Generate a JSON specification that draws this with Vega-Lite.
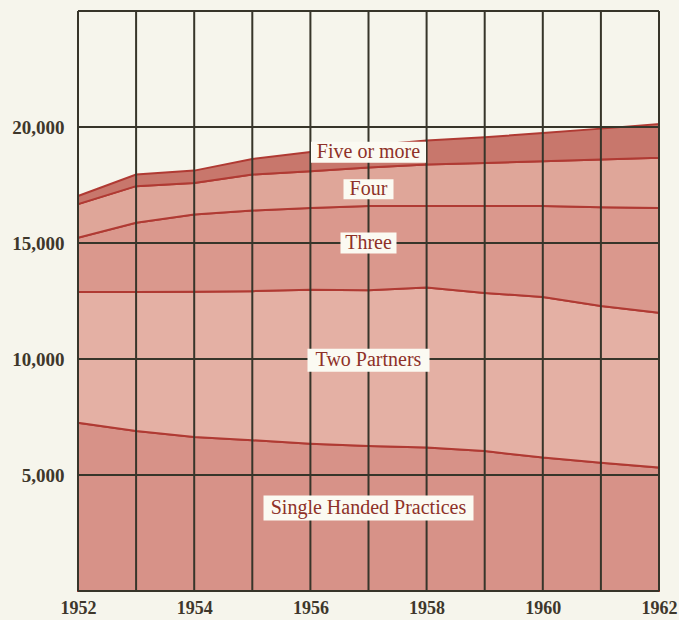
{
  "$schema": "https://vega.github.io/schema/vega-lite/v6.json",
  "width": 581,
  "height": 580,
  "autosize": {"type": "none"},
  "padding": {"left": 78, "top": 11, "right": 20, "bottom": 29},
  "background": "#f6f5ec",
  "config": {"view": {"stroke": null}},
  "datasets": {
    "practices": [
      {"year": 1952, "type": "Single Handed Practices", "rank": 1, "count": 7250},
      {"year": 1953, "type": "Single Handed Practices", "rank": 1, "count": 6900},
      {"year": 1954, "type": "Single Handed Practices", "rank": 1, "count": 6640},
      {"year": 1955, "type": "Single Handed Practices", "rank": 1, "count": 6500},
      {"year": 1956, "type": "Single Handed Practices", "rank": 1, "count": 6350},
      {"year": 1957, "type": "Single Handed Practices", "rank": 1, "count": 6250},
      {"year": 1958, "type": "Single Handed Practices", "rank": 1, "count": 6180},
      {"year": 1959, "type": "Single Handed Practices", "rank": 1, "count": 6030},
      {"year": 1960, "type": "Single Handed Practices", "rank": 1, "count": 5750},
      {"year": 1961, "type": "Single Handed Practices", "rank": 1, "count": 5530},
      {"year": 1962, "type": "Single Handed Practices", "rank": 1, "count": 5320},
      {"year": 1952, "type": "Two Partners", "rank": 2, "count": 5650},
      {"year": 1953, "type": "Two Partners", "rank": 2, "count": 5990},
      {"year": 1954, "type": "Two Partners", "rank": 2, "count": 6255},
      {"year": 1955, "type": "Two Partners", "rank": 2, "count": 6425},
      {"year": 1956, "type": "Two Partners", "rank": 2, "count": 6630},
      {"year": 1957, "type": "Two Partners", "rank": 2, "count": 6710},
      {"year": 1958, "type": "Two Partners", "rank": 2, "count": 6900},
      {"year": 1959, "type": "Two Partners", "rank": 2, "count": 6820},
      {"year": 1960, "type": "Two Partners", "rank": 2, "count": 6920},
      {"year": 1961, "type": "Two Partners", "rank": 2, "count": 6750},
      {"year": 1962, "type": "Two Partners", "rank": 2, "count": 6670},
      {"year": 1952, "type": "Three", "rank": 3, "count": 2325},
      {"year": 1953, "type": "Three", "rank": 3, "count": 2980},
      {"year": 1954, "type": "Three", "rank": 3, "count": 3335},
      {"year": 1955, "type": "Three", "rank": 3, "count": 3475},
      {"year": 1956, "type": "Three", "rank": 3, "count": 3530},
      {"year": 1957, "type": "Three", "rank": 3, "count": 3630},
      {"year": 1958, "type": "Three", "rank": 3, "count": 3510},
      {"year": 1959, "type": "Three", "rank": 3, "count": 3740},
      {"year": 1960, "type": "Three", "rank": 3, "count": 3920},
      {"year": 1961, "type": "Three", "rank": 3, "count": 4260},
      {"year": 1962, "type": "Three", "rank": 3, "count": 4520},
      {"year": 1952, "type": "Four", "rank": 4, "count": 1450},
      {"year": 1953, "type": "Four", "rank": 4, "count": 1580},
      {"year": 1954, "type": "Four", "rank": 4, "count": 1360},
      {"year": 1955, "type": "Four", "rank": 4, "count": 1550},
      {"year": 1956, "type": "Four", "rank": 4, "count": 1580},
      {"year": 1957, "type": "Four", "rank": 4, "count": 1660},
      {"year": 1958, "type": "Four", "rank": 4, "count": 1790},
      {"year": 1959, "type": "Four", "rank": 4, "count": 1860},
      {"year": 1960, "type": "Four", "rank": 4, "count": 1930},
      {"year": 1961, "type": "Four", "rank": 4, "count": 2060},
      {"year": 1962, "type": "Four", "rank": 4, "count": 2160},
      {"year": 1952, "type": "Five or more", "rank": 5, "count": 350},
      {"year": 1953, "type": "Five or more", "rank": 5, "count": 500},
      {"year": 1954, "type": "Five or more", "rank": 5, "count": 530},
      {"year": 1955, "type": "Five or more", "rank": 5, "count": 670},
      {"year": 1956, "type": "Five or more", "rank": 5, "count": 835},
      {"year": 1957, "type": "Five or more", "rank": 5, "count": 950},
      {"year": 1958, "type": "Five or more", "rank": 5, "count": 1040},
      {"year": 1959, "type": "Five or more", "rank": 5, "count": 1110},
      {"year": 1960, "type": "Five or more", "rank": 5, "count": 1220},
      {"year": 1961, "type": "Five or more", "rank": 5, "count": 1330},
      {"year": 1962, "type": "Five or more", "rank": 5, "count": 1460}
    ],
    "gridYears": [
      {"year": 1952}, {"year": 1953}, {"year": 1954}, {"year": 1955}, {"year": 1956}, {"year": 1957},
      {"year": 1958}, {"year": 1959}, {"year": 1960}, {"year": 1961}, {"year": 1962}
    ],
    "gridValues": [
      {"value": 0}, {"value": 5000}, {"value": 10000}, {"value": 15000}, {"value": 20000}, {"value": 25000}
    ],
    "labels": [
      {"label": "Five or more", "year": 1957, "value": 18910},
      {"label": "Four", "year": 1957, "value": 17320},
      {"label": "Three", "year": 1957, "value": 15000},
      {"label": "Two Partners", "year": 1957, "value": 9950},
      {"label": "Single Handed Practices", "year": 1957, "value": 3580}
    ]
  },
  "layer": [
    {
      "data": {"name": "practices"},
      "mark": {"type": "area", "stroke": "#b03a33", "strokeWidth": 2, "opacity": 1},
      "encoding": {
        "x": {
          "field": "year", "type": "quantitative",
          "scale": {"domain": [1952, 1962], "nice": false, "zero": false},
          "axis": {
            "values": [1952, 1954, 1956, 1958, 1960, 1962], "format": "d", "title": null,
            "grid": false, "domain": false, "ticks": false, "tickSize": 0, "labelPadding": 8,
            "labelFont": "Liberation Serif", "labelFontSize": 18, "labelFontWeight": "bold", "labelColor": "#3e372b",
            "labelFlush": false
          }
        },
        "y": {
          "field": "count", "type": "quantitative", "stack": "zero",
          "scale": {"domain": [0, 25000], "nice": false},
          "axis": {
            "values": [5000, 10000, 15000, 20000], "format": ",d", "title": null,
            "grid": false, "domain": false, "ticks": false, "tickSize": 0, "labelPadding": 14,
            "labelFont": "Liberation Serif", "labelFontSize": 19, "labelFontWeight": "bold", "labelColor": "#3e372b"
          }
        },
        "order": {"field": "rank", "type": "quantitative"},
        "color": {
          "field": "type", "type": "nominal", "legend": null,
          "scale": {
            "domain": ["Single Handed Practices", "Two Partners", "Three", "Four", "Five or more"],
            "range": ["#d79288", "#e4b0a4", "#da988d", "#dfa699", "#c8776c"]
          }
        }
      }
    },
    {
      "data": {"name": "gridYears"},
      "mark": {"type": "rule", "stroke": "#37352a", "strokeWidth": 2},
      "encoding": {"x": {"field": "year", "type": "quantitative"}}
    },
    {
      "data": {"name": "gridValues"},
      "mark": {"type": "rule", "stroke": "#37352a", "strokeWidth": 2},
      "encoding": {"y": {"field": "value", "type": "quantitative"}}
    },
    {
      "data": {"name": "labels"},
      "transform": [{"filter": "datum.label === 'Five or more'"}],
      "mark": {"type": "rect", "width": 115, "height": 21, "fill": "#fbfaf2"},
      "encoding": {"x": {"field": "year", "type": "quantitative"}, "y": {"field": "value", "type": "quantitative"}}
    },
    {
      "data": {"name": "labels"},
      "transform": [{"filter": "datum.label === 'Four'"}],
      "mark": {"type": "rect", "width": 50, "height": 20, "fill": "#fbfaf2"},
      "encoding": {"x": {"field": "year", "type": "quantitative"}, "y": {"field": "value", "type": "quantitative"}}
    },
    {
      "data": {"name": "labels"},
      "transform": [{"filter": "datum.label === 'Three'"}],
      "mark": {"type": "rect", "width": 56, "height": 21, "fill": "#fbfaf2"},
      "encoding": {"x": {"field": "year", "type": "quantitative"}, "y": {"field": "value", "type": "quantitative"}}
    },
    {
      "data": {"name": "labels"},
      "transform": [{"filter": "datum.label === 'Two Partners'"}],
      "mark": {"type": "rect", "width": 122, "height": 23, "fill": "#fbfaf2"},
      "encoding": {"x": {"field": "year", "type": "quantitative"}, "y": {"field": "value", "type": "quantitative"}}
    },
    {
      "data": {"name": "labels"},
      "transform": [{"filter": "datum.label === 'Single Handed Practices'"}],
      "mark": {"type": "rect", "width": 210, "height": 25, "fill": "#fbfaf2"},
      "encoding": {"x": {"field": "year", "type": "quantitative"}, "y": {"field": "value", "type": "quantitative"}}
    },
    {
      "data": {"name": "labels"},
      "mark": {"type": "text", "font": "Liberation Serif", "fontSize": 20, "fill": "#8e3128", "align": "center", "baseline": "middle"},
      "encoding": {
        "x": {"field": "year", "type": "quantitative"},
        "y": {"field": "value", "type": "quantitative"},
        "text": {"field": "label", "type": "nominal"}
      }
    }
  ]
}
